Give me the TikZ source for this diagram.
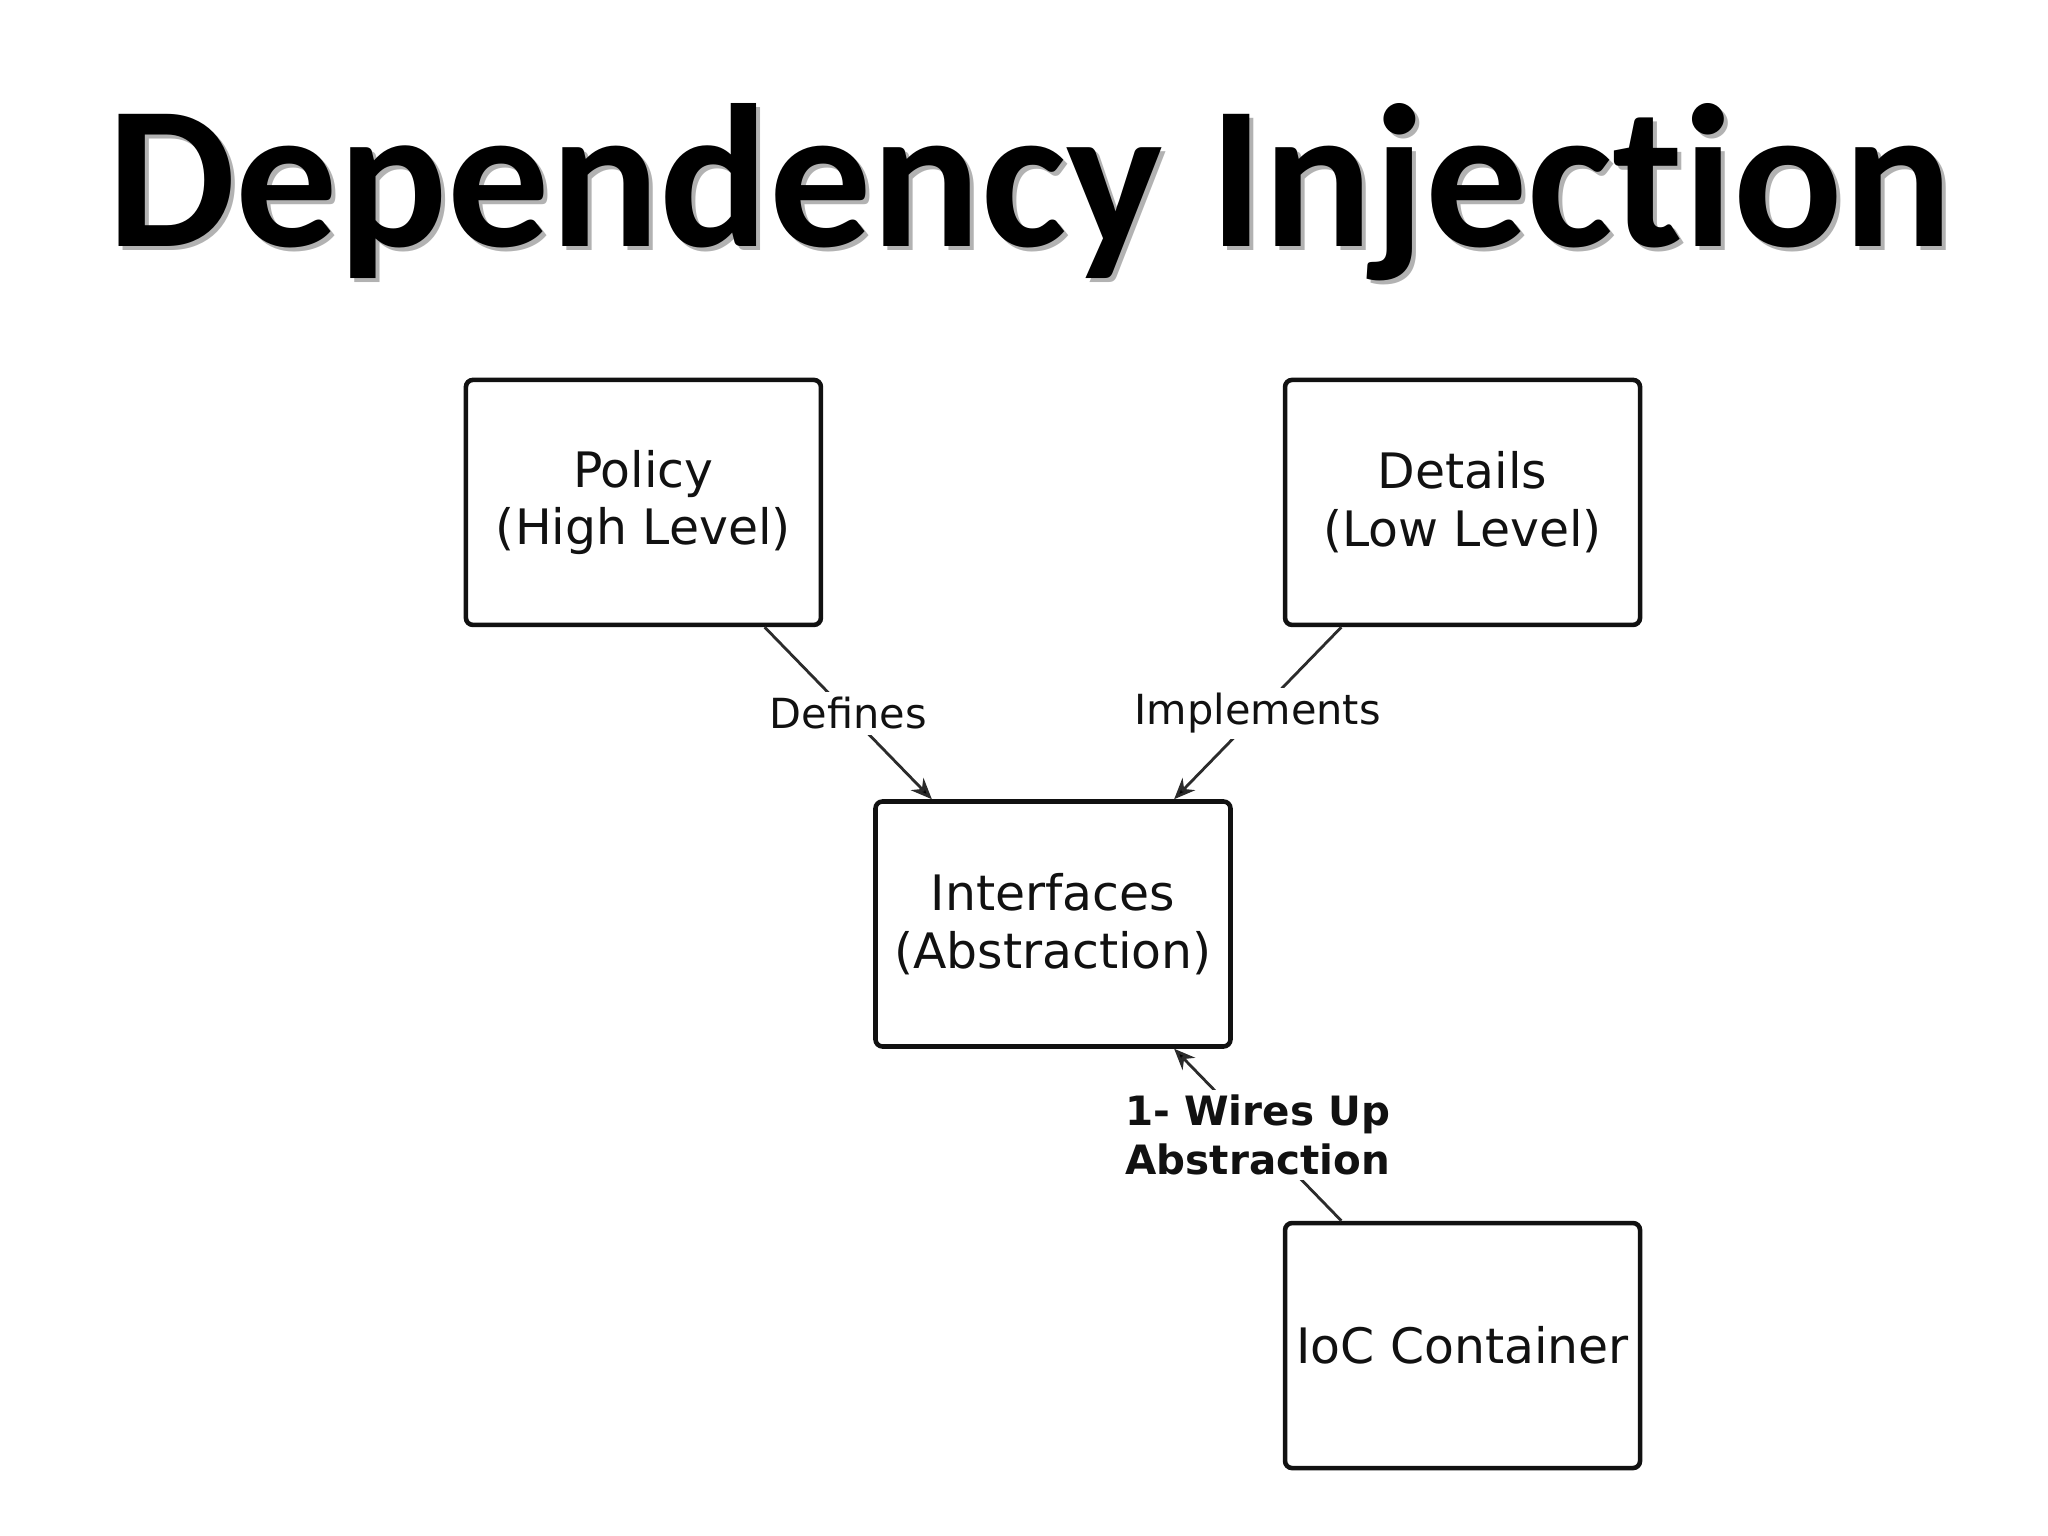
\documentclass[tikz,border=0pt]{standalone}
\usepackage{fontspec}
\setmainfont{DejaVu Sans}
\newfontfamily\titlefont[Ligatures=NoCommon]{Carlito}
\usepackage{tikz}
\usetikzlibrary{matrix,arrows.meta}

\definecolor{linegray}{HTML}{2b2b2b}
\definecolor{inkblack}{HTML}{111111}

\tikzset{
	box/.style={draw=inkblack, line width=1.3pt, rounded corners=2pt, align=center,
		minimum width=3.55cm, minimum height=2.45cm, inner sep=2pt,
		font=\fontsize{13.9}{16.4}\selectfont, text=inkblack},
	arr/.style={-{Stealth[length=6pt,width=5pt]}, draw=linegray, line width=0.8pt},
	lbl/.style={fill=white, inner sep=1.5pt, align=center, text=inkblack,
		font=\fontsize{11.8}{13.8}\selectfont}
}

\begin{document}
\begin{tikzpicture}
\useasboundingbox (0,0) rectangle (20.48,15.36);
% title with its shadow
\node[anchor=base, text=black!30] (shadow) at (10.34,12.85)
	{\titlefont\bfseries\fontsize{58}{62}\selectfont Dependency Injection};
\node[anchor=base] (title) at (10.30,12.89)
	{\titlefont\bfseries\fontsize{58}{62}\selectfont Dependency Injection};

\matrix (m) [row sep=1.72cm, column sep=0.50cm] at (10.53,6.12)
{
	\node[box] (pol) {Policy\\(High Level)}; & & \node[box] (det) {Details\\(Low Level)}; \\
	& \node[box] (abs) {Interfaces\\(Abstraction)}; & \\
	& & \node[box] (ioc) {IoC Container}; \\
};
\path[arr]
(pol) edge node [lbl] {Defines} (abs)
(det) edge node [lbl] {Implements} (abs)
(ioc) edge node [lbl, font=\fontsize{11.5}{13.8}\selectfont\bfseries] {1- Wires Up\\Abstraction} (abs);
\end{tikzpicture}
\end{document}
